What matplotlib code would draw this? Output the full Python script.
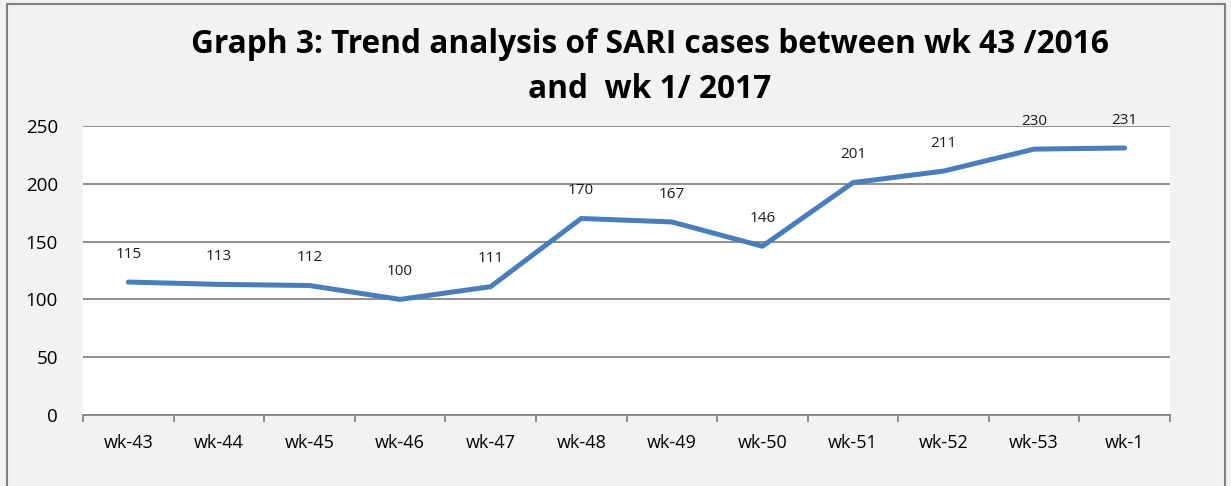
import numpy as np
import matplotlib.pyplot as plt
from matplotlib.patches import Rectangle

# Du lieu
weeks = ['wk-43', 'wk-44', 'wk-45', 'wk-46', 'wk-47', 'wk-48',
         'wk-49', 'wk-50', 'wk-51', 'wk-52', 'wk-53', 'wk-1']
cases = [115, 113, 112, 100, 111, 170, 167, 146, 201, 211, 230, 231]
yticks = [0, 50, 100, 150, 200, 250]

plt.rcParams['font.family'] = ['Open Sans', 'DejaVu Sans']

fig = plt.figure(figsize=(12.31, 4.86), dpi=100, facecolor='#f2f2f2')
ax = fig.add_axes([83 / 1231, 1 - 415 / 486, (1170 - 83) / 1231, (415 - 126) / 486])
ax.set_facecolor('white')

x = np.arange(len(weeks))
ax.plot(x, cases, color='#4a7ebb', linewidth=3.6, solid_capstyle='round', zorder=3)
for xi, yi in zip(x, cases):
    ax.annotate(str(yi), (xi, yi), xytext=(0, 20), textcoords='offset points',
                ha='center', va='center', fontsize=11, color='#1a1a1a')

ax.set_xlim(-0.5, len(weeks) - 0.5)
ax.set_ylim(0, 250)
ax.set_yticks(yticks)
ax.tick_params(axis='y', length=0, labelsize=13.5, pad=18)
ax.set_xticks(x)
ax.set_xticklabels(weeks, fontsize=13)
ax.tick_params(axis='x', length=0, pad=14)
ax.set_xticks(np.arange(len(weeks) + 1) - 0.5, minor=True)
ax.tick_params(axis='x', which='minor', length=5, color='#868686', width=1.3)
ax.grid(axis='y', color='#868686', linewidth=1.3)
ax.set_axisbelow(True)
for s in ['left', 'right', 'top']:
    ax.spines[s].set_visible(False)
ax.spines['bottom'].set_color('#868686')
ax.spines['bottom'].set_linewidth(1.3)

fig.text(650 / 1231, 1 - 67 / 486, 'Graph 3: Trend analysis of SARI cases between wk 43 /2016\nand  wk 1/ 2017',
         ha='center', va='center', fontsize=22.8, fontweight='bold', linespacing=1.45)

fig.patches.append(Rectangle((7 / 1231, -0.05), (1225 - 7) / 1231, 1 - 4 / 486 + 0.05,
                             transform=fig.transFigure, fill=False, edgecolor='#808080',
                             linewidth=1.5, clip_on=False))

plt.savefig('out.png', dpi=100, facecolor=fig.get_facecolor())
